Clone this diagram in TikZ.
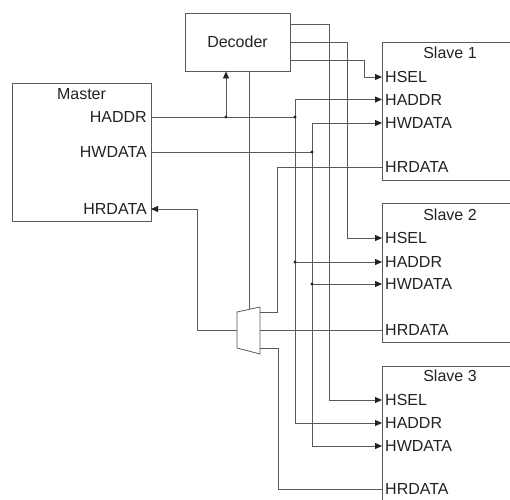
\documentclass[tikz,border=0pt]{standalone}
\usepackage{fontspec}
\setmainfont{Liberation Sans}
\usetikzlibrary{arrows.meta, positioning, calc}
\definecolor{wire}{HTML}{5A5A5A}
\definecolor{ink}{HTML}{222222}
\tikzset{
  unit/.style    = {rectangle, draw=wire, line width=0.8pt, inner sep=0pt,
                    font=\fontsize{16}{18}\selectfont, text=ink},
  title/.style   = {inner sep=0pt, font=\fontsize{16}{18}\selectfont, text=ink},
  inport/.style  = {anchor=west, inner xsep=3pt, inner ysep=0pt,
                    font=\fontsize{16}{18}\selectfont, text=ink},
  outport/.style = {anchor=east, inner xsep=4pt, inner ysep=0pt,
                    font=\fontsize{16}{18}\selectfont, text=ink},
  sig/.style     = {draw=wire, line width=0.8pt},
  flow/.style    = {sig, -{Triangle[length=7pt, width=6pt, color=ink]}},
}

\begin{document}
\begin{tikzpicture}[x=1pt, y=-1pt]
  \useasboundingbox (0,0) rectangle (510,499);
  \clip (0,0) rectangle (510,499);

  % blocks
  \node[unit, minimum width=139pt, minimum height=138pt] (master) at (81.5,152) {};
  \node[unit, minimum width=105pt, minimum height=58pt] (dec) at (237.5,42) {Decoder};
  \node[unit, minimum width=136pt, minimum height=138pt] (s1) at (450,111) {};
  \node[unit, minimum width=136pt, minimum height=139pt] (s2) at (450,272.5) {};
  \node[unit, minimum width=136pt, minimum height=139pt] (s3) at (450,435.5) {};

  \node[title] (mtitle) at ($(master.north)+(0,11)$) {Master};
  \node[title] (s1title) at ($(s1.north)+(0,11.5)$) {Slave 1};
  \node[title] (s2title) at ($(s2.north)+(0,12)$) {Slave 2};
  \node[title] (s3title) at ($(s3.north)+(0,10.5)$) {Slave 3};

  % ports
  \node[outport] (madr) at (151,117) {HADDR};
  \node[outport] (mwd) at (151,152) {HWDATA};
  \node[outport] (mrd) at (151,209) {HRDATA};

  \node[inport] (s1sel) at (382,77) {HSEL};
  \node[inport] (s1adr) at (382,99.5) {HADDR};
  \node[inport] (s1wd) at (382,123) {HWDATA};
  \node[inport] (s1rd) at (382,167) {HRDATA};

  \node[inport] (s2sel) at (382,238) {HSEL};
  \node[inport] (s2adr) at (382,262) {HADDR};
  \node[inport] (s2wd) at (382,284) {HWDATA};
  \node[inport] (s2rd) at (382,330) {HRDATA};

  \node[inport] (s3sel) at (382,400) {HSEL};
  \node[inport] (s3adr) at (382,423) {HADDR};
  \node[inport] (s3wd) at (382,446) {HWDATA};
  \node[inport] (s3rd) at (382,489) {HRDATA};

  % bus taps
  \coordinate (atap) at (226,117);
  \coordinate (abus) at (295,117);
  \coordinate (wbus) at (312,152);

  % read data mux
  \draw[sig, fill=white] (237,312) -- (260,307) -- (260,354) -- (237,348) -- cycle;
  \coordinate (muxo) at (237,330);
  \coordinate (muxa) at (260,312);
  \coordinate (muxb) at (260,330);
  \coordinate (muxc) at (260,348);
  \coordinate (muxs) at (249,309.4);

  % address and write data
  \draw[sig] (madr.east) -- (abus);
  \draw[flow] (atap) -- (atap |- dec.south);
  \draw[flow] (abus) |- (s1adr.west);
  \draw[flow] (abus) |- (s3adr.west);
  \draw[flow] (abus |- s2adr) -- (s2adr.west);
  \draw[sig] (mwd.east) -- (wbus);
  \draw[flow] (wbus) |- (s1wd.west);
  \draw[flow] (wbus) |- (s3wd.west);
  \draw[flow] (wbus |- s2wd) -- (s2wd.west);

  % slave selects
  \draw[flow] ([yshift=-18pt]dec.east) -| ($(s1sel.west)+(-18,0)$) -- (s1sel.west);
  \draw[flow] (dec.east) -| ($(s2sel.west)+(-35,0)$) -- (s2sel.west);
  \draw[flow] ([yshift=18pt]dec.east) -| ($(s3sel.west)+(-53,0)$) -- (s3sel.west);
  \draw[sig] (dec.south -| muxs) -- (muxs);

  % read data
  \draw[sig] (s1rd.west) -| ($(muxa)+(17,0)$) -- (muxa);
  \draw[sig] (s2rd.west) -- (muxb);
  \draw[sig] (s3rd.west) -| ($(muxc)+(18,0)$) -- (muxc);
  \draw[flow] (muxo) -| ($(mrd.east)+(46,0)$) -- (mrd.east);

  \fill[ink] (atap) circle (1.6pt) (abus) circle (1.6pt) (wbus) circle (1.6pt)
    (abus |- s2adr) circle (1.6pt) (wbus |- s2wd) circle (1.6pt);
\end{tikzpicture}
\end{document}
